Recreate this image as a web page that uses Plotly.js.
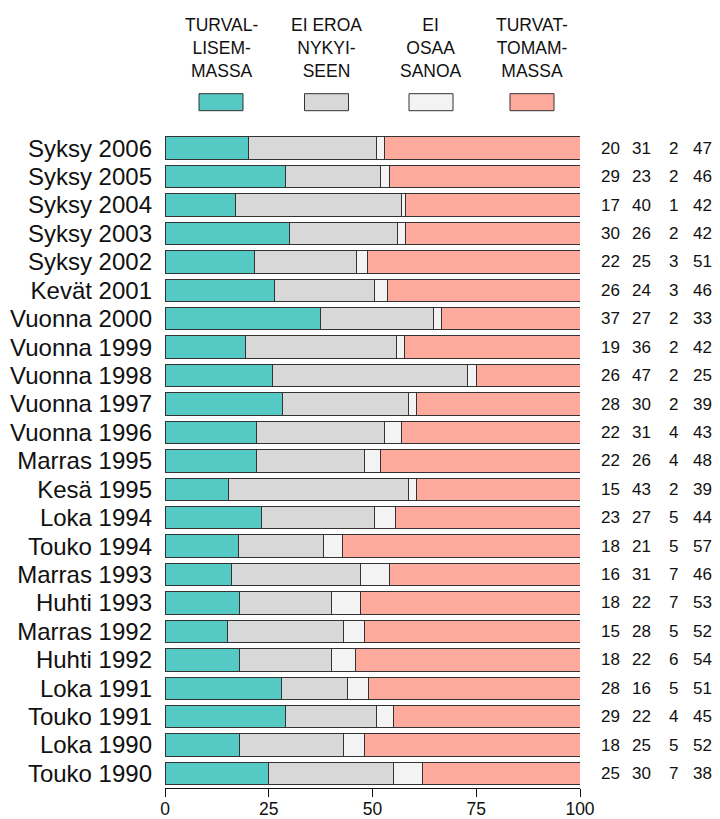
<!DOCTYPE html>
<html>
<head>
<meta charset="utf-8">
<script src="https://cdn.plot.ly/plotly-3.0.1.min.js"></script>
<style>html,body{margin:0;padding:0;background:#fff;}#chart{width:720px;height:819px;}</style>
</head>
<body>
<div id="chart"></div>
<script>
// Categories, top to bottom
const categories = ["Syksy 2006","Syksy 2005","Syksy 2004","Syksy 2003","Syksy 2002","Kevät 2001","Vuonna 2000","Vuonna 1999","Vuonna 1998","Vuonna 1997","Vuonna 1996","Marras 1995","Kesä 1995","Loka 1994","Touko 1994","Marras 1993","Huhti 1993","Marras 1992","Huhti 1992","Loka 1991","Touko 1991","Loka 1990","Touko 1990"];

// Bar lengths (percent)
const turvallisemmassa = [20,29,17,30,21.6,26.3,37.4,19.4,26,28.4,22,22,15.4,23.3,17.6,16,18,15,18,28,29,18,25];
const eiEroa           = [31,23,40,26,24.6,24.1,27.2,36.4,47,30.2,31,26,43.2,27.2,20.6,31,22,28,22,16,22,25,30];
const eiOsaa           = [2,2,1,2,2.7,3.2,2.0,1.8,2,2.0,4,4,2.0,5.1,4.6,7,7,5,6,5,4,5,7];
const turvattomammassa = [47,46,42,42,51.1,46.4,33.4,42.4,25,39.4,43,48,39.4,44.4,57.2,46,53,52,54,51,45,52,38];

// Printed figures to the right of the bars
const lblTurval  = [20,29,17,30,22,26,37,19,26,28,22,22,15,23,18,16,18,15,18,28,29,18,25];
const lblEiEroa  = [31,23,40,26,25,24,27,36,47,30,31,26,43,27,21,31,22,28,22,16,22,25,30];
const lblEiOsaa  = [2,2,1,2,3,3,2,2,2,2,4,4,2,5,5,7,7,5,6,5,4,5,7];
const lblTurvat  = [47,46,42,42,51,46,33,42,25,39,43,48,39,44,57,46,53,52,54,51,45,52,38];

// x-axis ticks
const xTicks = [0, 25, 50, 75, 100];

const seriesNames = ["TURVAL-<br>LISEM-<br>MASSA","EI EROA<br>NYKYI-<br>SEEN","EI<br>OSAA<br>SANOA","TURVAT-<br>TOMAM-<br>MASSA"];
const colors = ["#55C9C4","#D8D8D8","#F3F3F3","#FEAA9C"];
const seriesValues = [turvallisemmassa, eiEroa, eiOsaa, turvattomammassa];
const labelArrays = [lblTurval, lblEiEroa, lblEiOsaa, lblTurvat];

const FONT = "Liberation Sans, Arial, sans-serif";

const traces = seriesValues.map((vals, i) => ({
  type: "bar",
  orientation: "h",
  y: categories,
  x: vals,
  name: seriesNames[i].replace(/<br>/g, " "),
  marker: {color: colors[i], line: {color: "#333333", width: 1}},
  hoverinfo: "x+y",
  showlegend: false
}));

// Plot area geometry (px)
const L = 165, R = 580, T = 134.3, B = 788;
const pw = R - L, ph = B - T;
const px2paperX = p => (p - L) / pw;
const px2paperY = p => (B - p) / ph;

const annotations = [];
const colCenters = [610, 641, 673, 702];
labelArrays.forEach((arr, j) => {
  arr.forEach((v, i) => {
    annotations.push({
      xref: "paper", yref: "y", x: px2paperX(colCenters[j]), y: categories[i],
      text: String(v), showarrow: false, xanchor: "center", yanchor: "middle",
      font: {family: FONT, size: 17, color: "#111"}
    });
  });
});

// Custom legend: text above small boxes
const legCenters = [221, 326.5, 431, 532];
const shapes = [];
legCenters.forEach((cx, i) => {
  annotations.push({
    xref: "paper", yref: "paper", x: px2paperX(cx), y: px2paperY(48),
    text: seriesNames[i], showarrow: false, xanchor: "center", yanchor: "middle",
    align: "center", font: {family: FONT, size: 17.5, color: "#111"}
  });
  shapes.push({
    type: "rect", xref: "paper", yref: "paper",
    x0: px2paperX(cx - 22), x1: px2paperX(cx + 22),
    y0: px2paperY(111), y1: px2paperY(94),
    fillcolor: colors[i], line: {color: "#333333", width: 1}
  });
});

const nCat = categories.length;
const layout = {
  width: 720, height: 819,
  margin: {l: L, r: 720 - R, t: T, b: 819 - B, pad: 0},
  barmode: "stack",
  bargap: 0.21,
  paper_bgcolor: "#ffffff",
  plot_bgcolor: "#ffffff",
  font: {family: FONT, color: "#111"},
  xaxis: {
    range: [0, 100], tickmode: "array", tickvals: xTicks, ticktext: xTicks.map(String),
    showgrid: false, zeroline: false, showline: true, linecolor: "#111", linewidth: 1,
    ticks: "outside", ticklen: 8, tickcolor: "#111", tickwidth: 1,
    ticklabelstandoff: -3,
    tickfont: {family: FONT, size: 17.5, color: "#111"}, fixedrange: true
  },
  yaxis: {
    type: "category", categoryorder: "array", categoryarray: categories,
    tickmode: "array", tickvals: categories, ticktext: categories,
    range: [nCat - 0.5 + 0.01, -0.5],
    showgrid: false, zeroline: false, showline: false, ticks: "",
    ticklabelstandoff: 12,
    tickfont: {family: FONT, size: 24, color: "#111"}, fixedrange: true
  },
  annotations: annotations,
  shapes: shapes
};

Plotly.newPlot("chart", traces, layout, {displayModeBar: false, staticPlot: true});
</script>
</body>
</html>
